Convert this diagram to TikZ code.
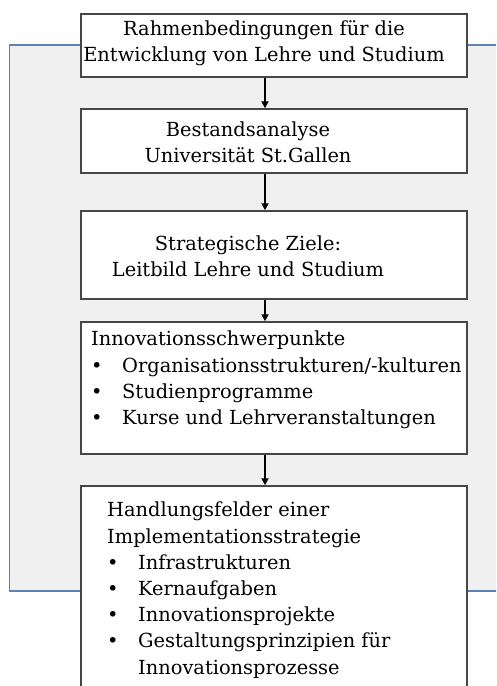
\documentclass[tikz,border=0pt]{standalone}
\usepackage{fontspec}
\setmainfont{DejaVu Serif}
\usetikzlibrary{arrows.meta}
\definecolor{framebg}{RGB}{240,240,240}
\definecolor{frameline}{RGB}{95,130,180}
\definecolor{boxline}{RGB}{70,70,70}
\begin{document}
\begin{tikzpicture}[x=1pt,y=-1pt,
  box/.style={draw=boxline,line width=1.5pt,fill=white,minimum width=386pt,inner sep=0pt},
  txt/.style={font=\fontsize{19.4}{26.2}\selectfont,align=center,inner sep=0pt},
  lst/.style={font=\fontsize{19.4}{26.2}\selectfont,align=left,inner sep=0pt,anchor=north west},
  flow/.style={-{Triangle[length=7pt,width=7pt]},line width=2.4pt}]
\clip (0,0) rectangle (496,686);
% background frame
\fill[framebg] (9.5,45) rectangle (510,591);
\draw[frameline,line width=1.2pt] (510,45) -- (9.5,45) -- (9.5,591) -- (510,591);
% boxes
\node[box,minimum height=63pt] (rahmen) at (274,45.5) {};
\node[box,minimum height=64pt] (bestand) at (274,141) {};
\node[box,minimum height=88pt] (ziele) at (274,255) {};
\node[box,minimum height=132pt] (schwer) at (274,388) {};
\node[box,minimum height=234pt] (handlung) at (274,603) {};
% texts
\node[txt] (t1) at (264,43) {Rahmenbedingungen für die\\Entwicklung von Lehre und Studium};
\node[txt] (t2) at (248,142) {Bestandsanalyse\\Universität St.Gallen};
\node[txt] (t3) at (248,256) {Strategische Ziele:\\Leitbild Lehre und Studium};
\node[lst] (t4) at (91,331) {Innovationsschwerpunkte\\
  \makebox[31pt][l]{\textbullet}Organisationsstrukturen/-kulturen\\
  \makebox[31pt][l]{\textbullet}Studienprogramme\\
  \makebox[31pt][l]{\textbullet}Kurse und Lehrveranstaltungen};
\node[lst] (t5) at (107,502) {Handlungsfelder einer\\
  Implementationsstrategie\\
  \makebox[31pt][l]{\textbullet}Infrastrukturen\\
  \makebox[31pt][l]{\textbullet}Kernaufgaben\\
  \makebox[31pt][l]{\textbullet}Innovationsprojekte\\
  \makebox[31pt][l]{\textbullet}Gestaltungsprinzipien für\\
  \hspace*{31pt}Innovationsprozesse};
% arrows
\draw[flow] ([xshift=-9pt]rahmen.south) -- ([xshift=-9pt]bestand.north);
\draw[flow] ([xshift=-9pt]bestand.south) -- ([xshift=-9pt]ziele.north);
\draw[flow] ([xshift=-9pt]ziele.south) -- ([xshift=-9pt]schwer.north);
\draw[flow] ([xshift=-9pt]schwer.south) -- ([xshift=-9pt]handlung.north);
\end{tikzpicture}
\end{document}
